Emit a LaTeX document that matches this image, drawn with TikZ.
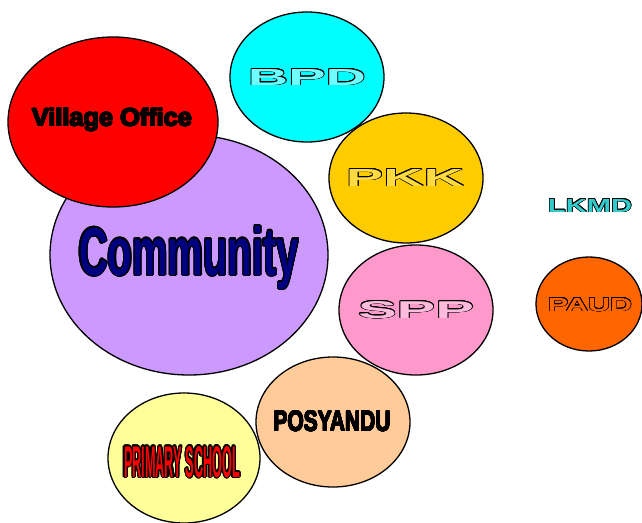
\documentclass[tikz,border=0pt]{standalone}
\usepackage{fontspec}
\setmainfont{Liberation Sans}
\usepackage{contour}
\usetikzlibrary{shapes.geometric}
\definecolor{commc}{HTML}{CC99FF}
\definecolor{villc}{HTML}{FF0000}
\definecolor{bpdc}{HTML}{00FFFF}
\definecolor{pkkc}{HTML}{FFCC00}
\definecolor{sppc}{HTML}{FF99CC}
\definecolor{paudc}{HTML}{FF6600}
\definecolor{posc}{HTML}{FFCC99}
\definecolor{primc}{HTML}{FFFF99}
\definecolor{navyc}{HTML}{000080}
\definecolor{tealc}{HTML}{33CCCC}
\definecolor{lbpd}{HTML}{70FFFF}
\definecolor{lpkk}{HTML}{FFDA40}
\definecolor{lspp}{HTML}{FFBBDD}
\newcommand{\otext}[5]{\textcolor{#1}{\contourlength{#2}\contour{black}{\resizebox{#3}{#4}{\bfseries #5}}}}
\tikzset{
  bubble/.style={draw=black, line width=1.3pt, ellipse, inner sep=0pt},
  lbl/.style={anchor=base, inner sep=0pt}
}
\begin{document}
\begin{tikzpicture}[x=1pt,y=-1pt]
\useasboundingbox (0,0) rectangle (642,522);
% Community
\node[bubble, fill=commc, minimum width=278pt, minimum height=240pt] (comm) at (189,255) {};
\node[lbl] (commt) at (189,275) {\otext{navyc}{1.2pt}{220pt}{49pt}{Community}};
% Village Office
\node[bubble, fill=villc, minimum width=210pt, minimum height=170pt] (vill) at (113,122) {};
\node[lbl] (villt) at (112,126) {\otext{black}{0.6pt}{160pt}{18pt}{Village Office}};
% BPD
\node[bubble, fill=bpdc, minimum width=154pt, minimum height=130pt] (bpd) at (307,77) {};
\node[lbl] (bpdt) at (307,85) {\otext{lbpd}{0.8pt}{118pt}{16pt}{BPD}};
% PKK
\node[bubble, fill=pkkc, minimum width=154pt, minimum height=130pt] (pkk) at (406,178) {};
\node[lbl] (pkkt) at (405,186) {\otext{lpkk}{0.8pt}{118pt}{17pt}{PKK}};
% SPP
\node[bubble, fill=sppc, minimum width=154pt, minimum height=130pt] (spp) at (416,310) {};
\node[lbl] (sppt) at (416,318) {\otext{lspp}{0.8pt}{116pt}{17pt}{SPP}};
% LKMD
\node[lbl] (lkmd) at (590,212) {\otext{tealc}{0.7pt}{84pt}{13pt}{LKMD}};
% PAUD
\node[bubble, fill=paudc, minimum width=106pt, minimum height=94pt] (paud) at (589,304) {};
\node[lbl] (paudt) at (590,311) {\otext{paudc}{0.7pt}{84pt}{13pt}{PAUD}};
% POSYANDU
\node[bubble, fill=posc, minimum width=154pt, minimum height=130pt] (pos) at (333,422) {};
\node[lbl] (post) at (332,431) {\otext{black}{0.4pt}{117pt}{20pt}{POSYANDU}};
% PRIMARY SCHOOL
\node[bubble, fill=primc, minimum width=152pt, minimum height=130pt] (prim) at (184,458) {};
\node[lbl] (primt) at (182,477) {\otext{red}{1.3pt}{116pt}{31pt}{PRIMARY SCHOOL}};
\end{tikzpicture}
\end{document}
